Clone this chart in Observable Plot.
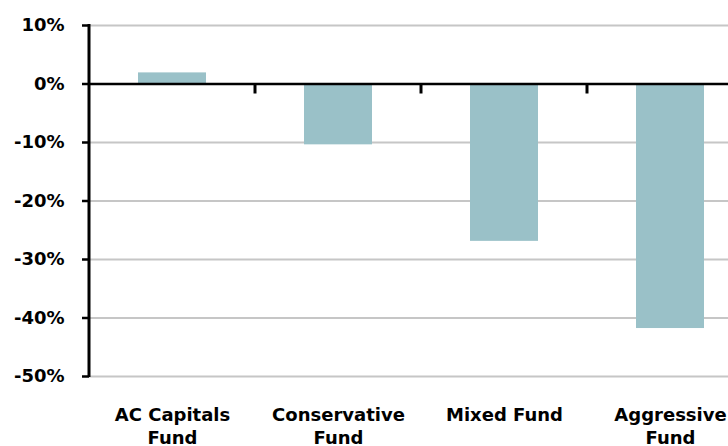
<!DOCTYPE html>
<html>
<head>
<meta charset="utf-8">
<script src="https://cdn.jsdelivr.net/npm/d3@7"></script>
<script src="https://cdn.jsdelivr.net/npm/@observablehq/plot@0.6"></script>
<style>
  html, body { margin: 0; padding: 0; background: #fff; }
</style>
</head>
<body>
<div id="chart"></div>
<script>
const categories = ["AC Capitals Fund", "Conservative Fund", "Mixed Fund", "Aggressive Fund"];
const tickLabels = ["AC Capitals\nFund", "Conservative\nFund", "Mixed Fund", "Aggressive\nFund"];
const values = [1.9, -10.4, -26.9, -41.8];
const yTicks = [10, 0, -10, -20, -30, -40, -50];

const data = categories.map((c, i) => ({category: c, value: values[i]}));

// left axis line and category boundary ticks on the zero line
function axisDecor(index, scales, vals, dims) {
  const g = d3.create("svg:g");
  const x = scales.x, y = scales.y;
  const y0 = y(0);
  const gap = (x.step() - x.bandwidth()) / 2;
  categories.slice(1).forEach(c => {
    const bx = x(c) - gap;
    g.append("line").attr("x1", bx).attr("x2", bx).attr("y1", y0).attr("y2", y0 + 10)
      .attr("stroke", "#000").attr("stroke-width", 3);
  });
  g.append("line")
    .attr("x1", dims.marginLeft).attr("x2", dims.marginLeft)
    .attr("y1", y(d3.max(yTicks)) - 1).attr("y2", y(d3.min(yTicks)) + 1)
    .attr("stroke", "#000").attr("stroke-width", 3);
  return g.node();
}

const chart = Plot.plot({
  width: 728,
  height: 446,
  marginTop: 25,
  marginBottom: 70,
  marginLeft: 89,
  marginRight: 0,
  style: {fontFamily: "'DejaVu Sans', sans-serif", fontWeight: "bold", fontSize: "18px", background: "#fff", color: "#000"},
  x: {domain: categories, range: [89, 753], paddingInner: 0.59, paddingOuter: 0.295, align: 0.5},
  y: {domain: [-50, 10]},
  marks: [
    Plot.gridY(yTicks.filter(t => t !== 0), {stroke: "#c6c6c6", strokeOpacity: 1, strokeWidth: 2}),
    Plot.barY(data, {x: "category", y: "value", fill: "#9ac1c8"}),
    Plot.ruleY([0], {stroke: "#000", strokeWidth: 2.5}),
    axisDecor,
    Plot.axisY({ticks: yTicks, tickSize: 7, tickPadding: 18, tickFormat: d => d + "%", label: null,
      fontSize: 18, strokeWidth: 2.5, stroke: "#000"}),
    Plot.axisX({tickSize: 0, tickPadding: 27, label: null, fontSize: 18, lineHeight: 1.33,
      tickFormat: d => tickLabels[categories.indexOf(d)], textOverflow: null})
  ]
});
document.getElementById("chart").appendChild(chart);
</script>
</body>
</html>
